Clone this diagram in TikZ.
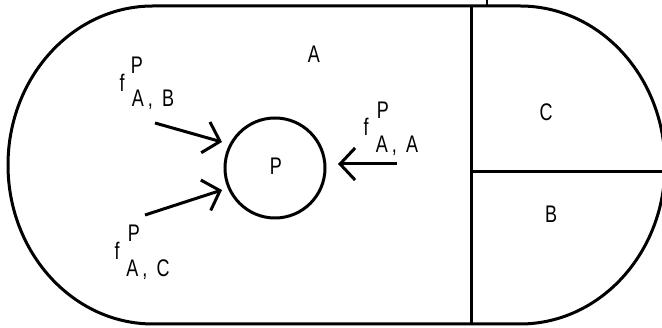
\documentclass[tikz,border=0pt]{standalone}
\usepackage{fontspec}
\setmainfont[FakeStretch=0.75]{Liberation Sans}
\usetikzlibrary{arrows.meta}
\tikzset{
  wall/.style={line width=3pt},
  force/.style={line width=3pt,-{Straight Barb[length=15pt,width=32pt,line width=3pt]}},
  lbl/.style={inner sep=0pt,font=\fontsize{24pt}{24pt}\selectfont},
}
\begin{document}
\begin{tikzpicture}[x=1pt,y=1pt]
\useasboundingbox (0,0) rectangle (662,328);
\clip (0,0) rectangle (662,328);
% outer racetrack
\draw[wall] (153,322) -- (520,322)
  arc[start angle=90,end angle=-90,x radius=145,y radius=159]
  -- (153,4)
  arc[start angle=270,end angle=90,x radius=145,y radius=159] -- cycle;
% dividing lines
\coordinate (vt) at (471,322);
\coordinate (vb) at (471,4);
\coordinate (hm) at (471,156);
\coordinate (hr) at (665,156);
\coordinate (tk1) at (487,322);
\coordinate (tk2) at (487,329);
\draw[wall] (vt) -- (vb);
\draw[wall] (hm) -- (hr);
\draw[line width=2pt] (tk1) -- (tk2);
% circle P
\node[draw,circle,line width=3pt,minimum size=100pt,inner sep=0pt] (P) at (275,160) {};
\node[lbl] (Plbl) at (276,162) {P};
% region labels
\node[lbl] (Albl) at (314,274) {A};
\node[lbl] (Clbl) at (546,216) {C};
\node[lbl] (Blbl) at (551,114) {B};
% force labels
\node[lbl] (f1) at (122,245) {f};
\node[lbl] (p1) at (137,263) {P};
\node[lbl] (s1) at (153,228) {A\hspace{4pt},\hspace{9pt}B};
\node[lbl] (f2) at (117,77) {f};
\node[lbl] (p2) at (134,95) {P};
\node[lbl] (s2) at (148,58) {A\hspace{4pt},\hspace{9pt}C};
\node[lbl] (f3) at (366,201) {f};
\node[lbl] (p3) at (383,218) {P};
\node[lbl] (s3) at (397,182) {A\hspace{4pt},\hspace{9pt}A};
% arrows
\coordinate (ab0) at (155,205);
\coordinate (ab1) at (222,186);
\coordinate (ac0) at (145,113);
\coordinate (ac1) at (222,138);
\coordinate (aa0) at (397,164);
\coordinate (aa1) at (338,164);
\draw[force] (ab0) -- (ab1);
\draw[force] (ac0) -- (ac1);
\draw[force] (aa0) -- (aa1);
\end{tikzpicture}
\end{document}
